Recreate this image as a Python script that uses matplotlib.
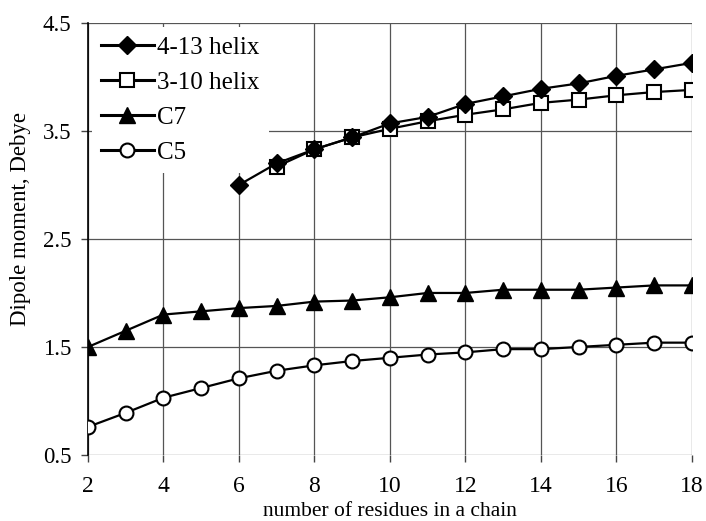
import numpy as np
import matplotlib
matplotlib.use('Agg')
import matplotlib.pyplot as plt

plt.rcParams['font.family'] = ['Liberation Serif', 'DejaVu Serif']

# dipole moment vs chain length for each conformation
n_helix413 = [6, 7, 8, 9, 10, 11, 12, 13, 14, 15, 16, 17, 18]
mu_helix413 = [3.00, 3.20, 3.33, 3.44, 3.57, 3.63, 3.75, 3.82, 3.89, 3.94, 4.01, 4.07, 4.13]

n_helix310 = [7, 8, 9, 10, 11, 12, 13, 14, 15, 16, 17, 18]
mu_helix310 = [3.17, 3.33, 3.44, 3.52, 3.59, 3.65, 3.70, 3.76, 3.79, 3.83, 3.86, 3.88]

n_c7 = list(range(2, 19))
mu_c7 = [1.50, 1.65, 1.80, 1.83, 1.86, 1.88, 1.92, 1.93, 1.96, 2.00, 2.00, 2.03, 2.03, 2.03, 2.05, 2.07, 2.07]

n_c5 = list(range(2, 19))
mu_c5 = [0.76, 0.89, 1.03, 1.12, 1.21, 1.28, 1.33, 1.37, 1.40, 1.43, 1.45, 1.48, 1.48, 1.50, 1.52, 1.54, 1.54]

xticks = [2, 4, 6, 8, 10, 12, 14, 16, 18]
yticks = [0.5, 1.5, 2.5, 3.5, 4.5]

fig = plt.figure(figsize=(7.06, 5.21), dpi=100)
ax = fig.add_axes([0.1246, 0.1267, 0.8554, 0.8293])

ax.plot(n_helix413, mu_helix413, '-D', color='black', lw=1.6, ms=9,
        mfc='black', label='4-13 helix', zorder=4)
ax.plot(n_helix310, mu_helix310, '-s', color='black', lw=1.6, ms=9.5,
        mfc='white', mew=1.5, label='3-10 helix', zorder=3)
ax.plot(n_c7, mu_c7, '-^', color='black', lw=1.6, ms=11,
        mfc='black', label='C7', zorder=3)
ax.plot(n_c5, mu_c5, '-o', color='black', lw=1.6, ms=10,
        mfc='white', mew=1.5, label='C5', zorder=3)

ax.set_xlim(2, 18)
ax.set_ylim(0.5, 4.5)
ax.set_xticks(xticks)
ax.set_yticks(yticks)
ax.set_yticklabels(['%.1f' % v for v in yticks])
ax.tick_params(axis='both', direction='out', length=5, width=1, color='#444444')
ax.tick_params(axis='x', labelsize=17, pad=10)
ax.tick_params(axis='y', labelsize=16.5, pad=7)
ax.grid(True, color='#555555', lw=0.9)
ax.set_axisbelow(True)
for side in ['top', 'right', 'bottom']:
    ax.spines[side].set_visible(False)
ax.spines['left'].set_linewidth(1.2)

ax.set_xlabel('number of residues in a chain', fontsize=15.5, labelpad=4)
ax.set_ylabel('Dipole moment, Debye', fontsize=16.5)
ax.yaxis.set_label_coords(-0.094, 0.546)

# legend box hides the grid but sits under the data lines
leg = ax.legend(loc='upper left', bbox_to_anchor=(0.0, 1.0), frameon=True,
                fontsize=18, handlelength=2.1, handletextpad=0.15,
                labelspacing=0.5, borderaxespad=0.15, borderpad=0.38,
                fancybox=False, framealpha=1)
leg.get_frame().set_facecolor('white')
leg.get_frame().set_edgecolor('none')
leg.set_zorder(2.5)
for line in leg.get_lines():
    line.set_linewidth(2.2)

fig.savefig('out.png', dpi=100)
